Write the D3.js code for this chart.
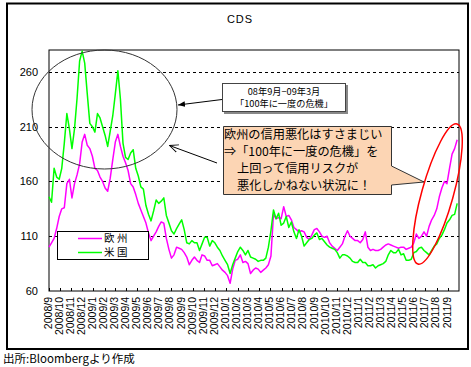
<!DOCTYPE html>
<html>
<head>
<meta charset="utf-8">
<style>
  body { margin: 0; background: #fff; }
  svg { display: block; }
  text { font-family: "Liberation Sans", Arial, sans-serif; fill: #000; }
  .jp { font-family: "Noto Sans CJK JP", sans-serif; }
</style>
</head>
<body>
<svg width="471" height="367"></svg>
<script src="https://d3js.org/d3.v7.min.js"></script>
<script>
// weekly readings, starting 2008/9/1
const startDate = "2008-09-01";
const stepDays = 7;

const seriesNames = ["欧州", "米国"];
const seriesColors = ["#ff00ff", "#00ff00"];

const europe = [100,104,108,117,128,135,136,158,162,145,
  158,166,176,196,203,193,190,183,172,170,
  164,160,154,151,163,180,196,203,192,183,
  177,170,158,155,148,140,134,128,122,113,
  106,110,114,119,123,122,108,98,90,93,
  100,99,98,95,91,84,88,91,88,86,
  93,92,88,88,83,84,85,82,79,77,
  74,67,80,88,89,93,86,87,85,76,
  79,81,80,77,79,81,84,92,130,126,
  127,126,137,128,129,125,118,116,114,115,
  114,109,107,111,116,117,114,110,109,110,
  104,101,99,97,100,103,110,115,110,108,
  106,106,104,107,114,100,97,98,97,97,
  98,100,102,103,102,101,100,99,100,100,
  98,99,100,104,112,108,110,114,110,119,
  125,129,135,146,154,160,158,172,185,190,
  198];

const us = [146,141,172,164,162,172,195,222,208,190,
  208,236,270,279,268,240,213,210,205,222,
  218,210,202,192,206,220,240,261,235,195,
  182,180,186,189,172,165,155,153,138,130,
  124,133,143,140,142,145,129,122,115,112,
  117,121,125,116,104,103,106,104,104,97,
  103,109,109,101,106,104,100,97,92,88,
  84,76,84,90,96,100,97,93,97,91,
  90,89,87,88,88,90,100,115,134,126,
  131,120,122,128,118,123,114,108,116,110,
  101,104,107,108,111,113,107,108,105,102,
  100,99,98,95,90,93,93,92,90,87,
  86,86,89,86,86,83,83,84,81,83,
  84,85,87,93,97,95,95,98,93,94,
  88,88,89,95,96,99,100,97,95,93,
  97,101,103,108,111,116,122,125,129,130,
  140];

const monthLabels = ["2008/9","2008/10","2008/11","2008/12",
  "2009/1","2009/2","2009/3","2009/4","2009/5","2009/6","2009/7","2009/8","2009/9","2009/10","2009/11","2009/12",
  "2010/1","2010/2","2010/3","2010/4","2010/5","2010/6","2010/7","2010/8","2010/9","2010/10","2010/11","2010/12",
  "2011/1","2011/2","2011/3","2011/4","2011/5","2011/6","2011/7","2011/8","2011/9"];

const yTicks = [60, 110, 160, 210, 260];

const title = "CDS";
const source = "出所:Bloombergより作成";
const note1 = ["08年9月−09年3月", "「100年に一度の危機」"];
const note2 = ["欧州の信用悪化はすさまじい", "⇒「100年に一度の危機」を", "上回って信用リスクが", "悪化しかねない状況に！"];

const svg = d3.select("svg");
const margin = { left: 49, top: 50, right: 459, bottom: 291 };

const parseDay = d3.timeParse("%Y-%m-%d");
const parseMonth = d3.timeParse("%Y/%m");
const t0 = parseDay(startDate);

let x = d3.scaleTime()
  .domain([t0, d3.timeMonth.offset(t0, 37)])
  .range([margin.left, margin.right]);

let y = d3.scaleLinear()
  .domain([60, 280])
  .range([margin.bottom, margin.top]);

// outer frame
svg.append("rect")
  .attr("x", 7).attr("y", 3.5)
  .attr("width", 461).attr("height", 345.5)
  .style("fill", "none").style("stroke", "#000").style("stroke-width", 2);

svg.append("text")
  .attr("x", 240).attr("y", 23)
  .attr("text-anchor", "middle")
  .style("font-size", "11px")
  .style("letter-spacing", "1px")
  .text(title);

// plot area
svg.append("rect")
  .attr("x", margin.left).attr("y", margin.top)
  .attr("width", margin.right - margin.left).attr("height", margin.bottom - margin.top)
  .style("fill", "#fff").style("stroke", "#000").style("stroke-width", 1);

svg.append("g")
  .selectAll("line")
  .data(yTicks.filter(d => d > 60))
  .join("line")
  .attr("x1", margin.left).attr("x2", margin.right)
  .attr("y1", d => Math.round(y(d)) + 0.5).attr("y2", d => Math.round(y(d)) + 0.5)
  .style("stroke", "#000").style("stroke-dasharray", "3,3");

svg.append("g")
  .selectAll("text")
  .data(yTicks)
  .join("text")
  .attr("x", 38).attr("y", d => y(d))
  .attr("dy", "0.35em")
  .attr("text-anchor", "end")
  .style("font-size", "11px")
  .text(d => d);

// x ticks + labels
let xAxis = svg.append("g");
xAxis.selectAll("line")
  .data(monthLabels)
  .join("line")
  .attr("x1", d => Math.round(x(parseMonth(d))) + 0.5)
  .attr("x2", d => Math.round(x(parseMonth(d))) + 0.5)
  .attr("y1", margin.bottom).attr("y2", margin.bottom - 3)
  .style("stroke", "#000");

xAxis.selectAll("text")
  .data(monthLabels)
  .join("text")
  .attr("transform", d => `translate(${x(parseMonth(d)) - 1},297) rotate(-90)`)
  .attr("text-anchor", "end")
  .attr("dy", "0.35em")
  .style("font-size", "10.5px")
  .text(d => d);

// series
const series = [europe, us];
let line = d3.line()
  .x((d, i) => x(d3.timeDay.offset(t0, i * stepDays)))
  .y(d => y(d));

svg.append("g")
  .selectAll("path")
  .data(series)
  .join("path")
  .attr("d", d => line(d))
  .style("fill", "none")
  .style("stroke", (d, i) => seriesColors[i])
  .style("stroke-width", 1.5)
  .style("stroke-linejoin", "round");

// legend
let legend = svg.append("g");
legend.append("rect")
  .attr("x", 57.5).attr("y", 231.5).attr("width", 91).attr("height", 28)
  .style("fill", "#fff").style("stroke", "#000");
legend.selectAll("line")
  .data(seriesNames)
  .join("line")
  .attr("x1", 78).attr("x2", 102)
  .attr("y1", (d, i) => 238.5 + i * 14).attr("y2", (d, i) => 238.5 + i * 14)
  .style("stroke", (d, i) => seriesColors[i]).style("stroke-width", 1.5);
legend.append("text")
  .attr("class", "jp")
  .style("font-size", "10.5px").style("letter-spacing", "2.5px")
  .selectAll("tspan")
  .data(seriesNames)
  .join("tspan")
  .attr("x", 104)
  .attr("y", (d, i) => 242.3 + i * 14)
  .text(d => d);

// annotations
let defs = svg.append("defs");
defs.append("marker")
  .attr("id", "solid").attr("viewBox", "0 0 10 10")
  .attr("refX", 10).attr("refY", 5)
  .attr("markerWidth", 7).attr("markerHeight", 7)
  .attr("orient", "auto")
  .append("path").attr("d", "M0,1 L10,5 L0,9 Z").style("fill", "#000");
defs.append("marker")
  .attr("id", "open").attr("viewBox", "0 0 10 10")
  .attr("refX", 10).attr("refY", 5)
  .attr("markerWidth", 9).attr("markerHeight", 9)
  .attr("markerUnits", "userSpaceOnUse")
  .attr("orient", "auto")
  .append("path").attr("d", "M0,0.5 L10,5 L0,9.5").style("fill", "none").style("stroke", "#000").style("stroke-width", 1);

svg.append("ellipse")
  .attr("cx", 104.5).attr("cy", 109.5).attr("rx", 72.5).attr("ry", 59.5)
  .style("fill", "none").style("stroke", "#333").style("stroke-width", 1);

svg.append("line")
  .attr("x1", 222).attr("y1", 99.5).attr("x2", 178).attr("y2", 105)
  .style("stroke", "#000").attr("marker-end", "url(#solid)");

svg.append("line")
  .attr("x1", 217).attr("y1", 163).attr("x2", 169.5).attr("y2", 145.5)
  .style("stroke", "#000").attr("marker-end", "url(#open)");

// box 1
svg.append("rect")
  .attr("x", 224).attr("y", 85).attr("width", 124).attr("height", 29)
  .style("fill", "#888");
svg.append("rect")
  .attr("x", 222.5).attr("y", 83.5).attr("width", 123).attr("height", 28)
  .style("fill", "#fff").style("stroke", "#444");
svg.append("text")
  .attr("class", "jp")
  .attr("text-anchor", "middle")
  .style("font-size", "9.2px")
  .selectAll("tspan")
  .data(note1)
  .join("tspan")
  .attr("x", 284)
  .attr("y", (d, i) => 94.8 + i * 12.6)
  .text(d => d);

// callout
svg.append("path")
  .attr("d", "M223.5,126.5 H391.5 V166 L424,182 L391.5,185 V194.5 H223.5 Z")
  .style("fill", "#fcd5b4").style("stroke", "#333").style("stroke-width", 1);
svg.append("text")
  .attr("class", "jp")
  .style("font-size", "12.2px")
  .selectAll("tspan")
  .data(note2)
  .join("tspan")
  .attr("x", (d, i) => i < 2 ? 224 : 237)
  .attr("y", (d, i) => 138.6 + i * 17.2)
  .text(d => d);

// red ellipse
svg.append("ellipse")
  .attr("transform", "translate(437.5,194) rotate(15.6)")
  .attr("rx", 15.8).attr("ry", 72.7)
  .style("fill", "none").style("stroke", "#ff0000").style("stroke-width", 1.5);

svg.append("text")
  .attr("class", "jp")
  .attr("x", 3).attr("y", 359)
  .attr("dy", "0.35em")
  .style("font-size", "11.5px")
  .text(source);
</script>
</body>
</html>
